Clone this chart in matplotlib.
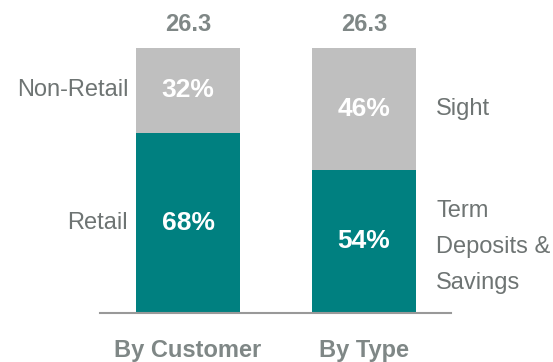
import matplotlib.pyplot as plt
import numpy as np

plt.rcParams['font.family'] = ['Liberation Sans', 'DejaVu Sans']

groups = ['By Customer', 'By Type']
totals = ['26.3', '26.3']
bottom_share = [68, 54]
top_share = [32, 46]
bottom_names = ['Retail', 'Term\nDeposits &\nSavings']
top_names = ['Non-Retail', 'Sight']

teal = '#008080'
grey = '#bfbfbf'
txt = '#6e7473'
bold_txt = '#7f8786'

fig = plt.figure(figsize=(5.53, 3.62), dpi=100)
ax = fig.add_axes([0, 0, 1, 1])
x = np.arange(len(groups))
w = 0.59

ax.bar(x, bottom_share, w, color=teal)
ax.bar(x, top_share, w, bottom=bottom_share, color=grey)

for i in range(len(groups)):
    b, t = bottom_share[i], top_share[i]
    ax.text(x[i], b / 2, f'{b}%', ha='center', va='center', color='white',
            fontsize=19, fontweight='bold')
    ax.text(x[i], b + t / 2, f'{t}%', ha='center', va='center', color='white',
            fontsize=19, fontweight='bold')
    ax.text(x[i], 108.8, totals[i], ha='center', va='center', color=bold_txt,
            fontsize=17, fontweight='bold')
    ax.text(x[i], -14.2, groups[i], ha='center', va='center', color=bold_txt,
            fontsize=17, fontweight='bold')

# side labels: left of first bar, right of second
ax.text(x[0] - 0.34, top_share[0] / 2 + bottom_share[0], top_names[0], ha='right',
        va='center', color=txt, fontsize=17)
ax.text(x[0] - 0.34, bottom_share[0] / 2, bottom_names[0], ha='right',
        va='center', color=txt, fontsize=17)
ax.text(x[1] + 0.41, top_share[1] / 2 + bottom_share[1], top_names[1], ha='left',
        va='center', color=txt, fontsize=17)
ax.text(x[1] + 0.41, bottom_share[1] / 2 - 2.1, bottom_names[1], ha='left',
        va='center', color=txt, fontsize=17, linespacing=1.82)

ax.set_xlim(-188 / 176, (553 - 188) / 176)
ax.set_ylim(-18.5, 118.1)
ax.axhline(0, xmin=100 / 553, xmax=451 / 553, color='#999999', lw=1.5)
ax.axis('off')

fig.savefig('out.png', dpi=100)
